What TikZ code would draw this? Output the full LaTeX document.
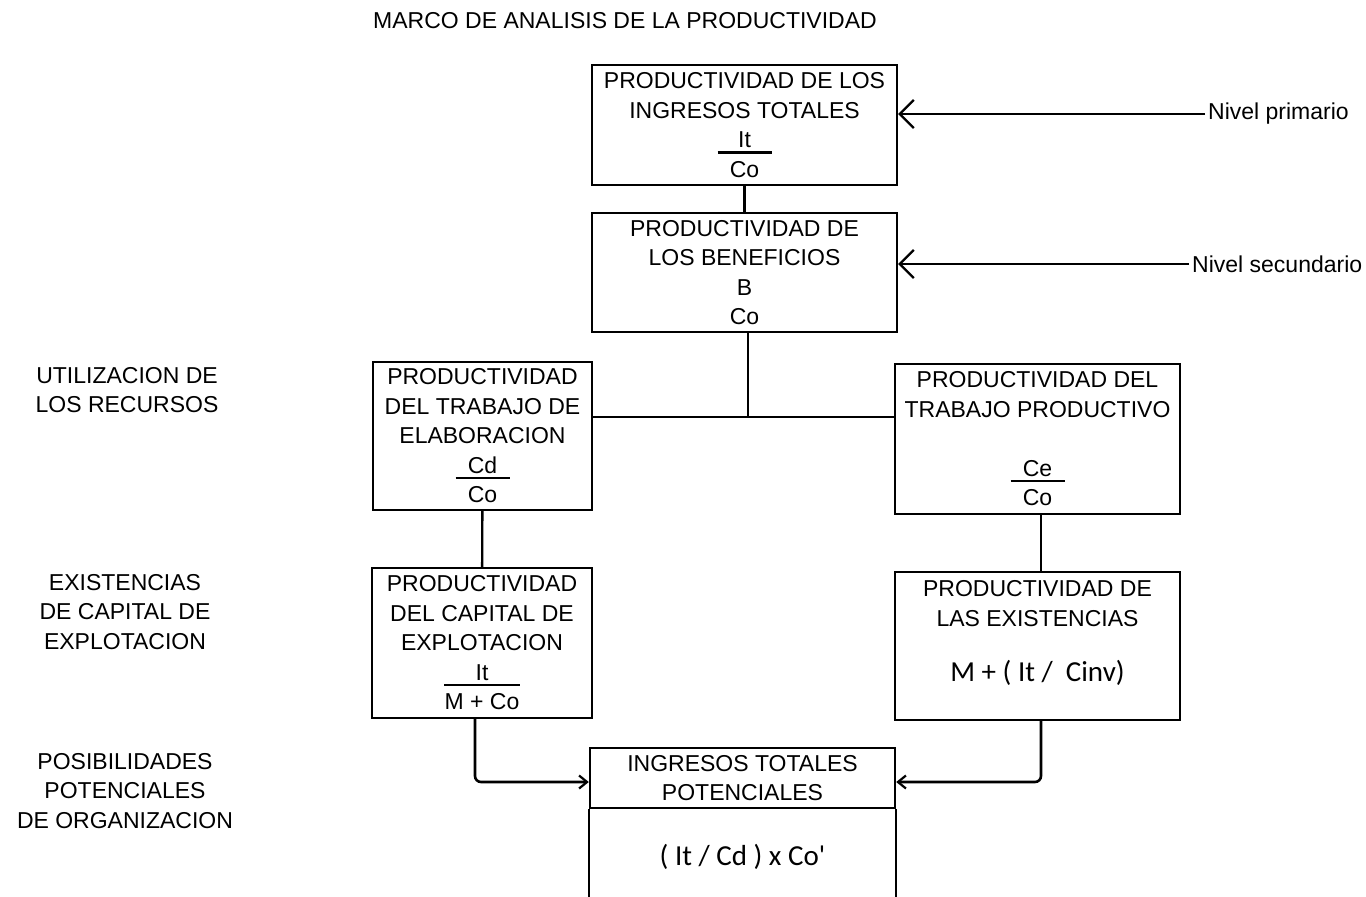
\documentclass[tikz,border=0pt]{standalone}
\usepackage{fontspec}
\setmainfont{Liberation Sans}
\newfontfamily\calibri{Carlito}
\usepackage{tikz}
\usetikzlibrary{calc,arrows.meta,positioning}

\begin{document}
\begin{tikzpicture}[x=1pt, y=-1pt,
    box/.style={draw, line width=2.4pt, rectangle, align=center, inner sep=0pt,
        font=\fontsize{23}{29.5}\selectfont},
    lbl/.style={align=center, font=\fontsize{23}{29.5}\selectfont},
    formula/.style={font=\calibri\fontsize{29}{34}\selectfont},
    nivarrow/.style={-{Straight Barb[length=14pt, width=28pt, line width=2.2pt]}, line width=2pt, shorten <=3pt},
    potarrow/.style={-{Straight Barb[length=8pt, width=13pt, line width=2.2pt]}, line width=2.6pt, rounded corners=6pt},
    link/.style={line width=2.4pt}]
    \useasboundingbox (0,0) rectangle (1366,897);
    \newcommand{\fracbar}[2][54pt]{\mbox{\rlap{\rule[-6pt]{#1}{2.2pt}}\makebox[#1]{#2}}}

    \node[lbl] (titulo) at (625,21) {MARCO DE ANALISIS DE LA PRODUCTIVIDAD};

    % niveles
    \node[box, minimum width=305pt, minimum height=120pt] (ingtot) at (744.5,125)
        {PRODUCTIVIDAD DE LOS\\ INGRESOS TOTALES\\ \fracbar{It}\\ Co};
    \node[box, minimum width=305pt, minimum height=119pt] (benef) at (744.5,272.5)
        {PRODUCTIVIDAD DE\\ LOS BENEFICIOS\\ B\\ Co};
    \node[box, minimum width=219pt, minimum height=148pt] (trabelab) at (482.5,436)
        {PRODUCTIVIDAD\\ DEL TRABAJO DE\\ ELABORACION\\ \fracbar{Cd}\\ Co};
    \node[box, minimum width=285pt, minimum height=150pt] (trabprod) at (1037.5,439)
        {PRODUCTIVIDAD DEL\\ TRABAJO PRODUCTIVO\\[29.5pt] \fracbar{Ce}\\ Co};
    \node[box, minimum width=220pt, minimum height=150pt] (capexpl) at (482,643)
        {PRODUCTIVIDAD\\ DEL CAPITAL DE\\ EXPLOTACION\\ \fracbar[76pt]{It}\\ M + Co};
    \node[box, minimum width=285pt, minimum height=148pt] (exist) at (1037.5,646)
        {PRODUCTIVIDAD DE\\ LAS EXISTENCIAS\\[26pt] {\calibri\fontsize{29}{34}\selectfont M + ( It /~ Cinv)}\\ \mbox{}};
    \node[box, minimum width=305pt, minimum height=60pt] (ingpot) at (742.5,778)
        {INGRESOS TOTALES\\ POTENCIALES};
    \node[formula] (potform) at (742.5,857) {( It / Cd ) x Co'};
    \draw[line width=2.4pt] (ingpot.south west) -- ++(0,95) (ingpot.south east) -- ++(0,95);

    % textos de la izquierda
    \node[lbl] (utilrec) at (127,390) {UTILIZACION DE\\ LOS RECURSOS};
    \node[lbl] (existcap) at (125,612) {EXISTENCIAS\\ DE CAPITAL DE\\ EXPLOTACION};
    \node[lbl] (posib) at (125,791) {POSIBILIDADES\\ POTENCIALES\\ DE ORGANIZACION};

    \node[lbl, anchor=west, inner sep=0pt] (nivprim) at (1208,114) {Nivel primario};
    \node[lbl, anchor=west, inner sep=0pt] (nivsec) at (1192,264) {Nivel secundario};
    \draw[nivarrow] (nivprim.west) -- (ingtot.east |- nivprim.west);
    \draw[nivarrow] (nivsec.west) -- (benef.east |- nivsec.west);

    % conexiones
    \coordinate (junct) at (748,417);
    \draw[link] (ingtot) -- (benef);
    \draw[link] (benef.south -| junct) -- (junct);
    \draw[link] (trabelab.east |- junct) -- (trabprod.west |- junct);
    \draw[link] (trabelab) -- (capexpl);
    \draw[link] (trabprod.south -| 1041,0) -- (exist.north -| 1041,0);
    \draw[potarrow] (capexpl.south -| 475,0) |- ($(ingpot.west)+(0,4)$);
    \draw[potarrow] (exist.south -| 1041,0) |- ($(ingpot.east)+(0,4)$);
\end{tikzpicture}
\end{document}
